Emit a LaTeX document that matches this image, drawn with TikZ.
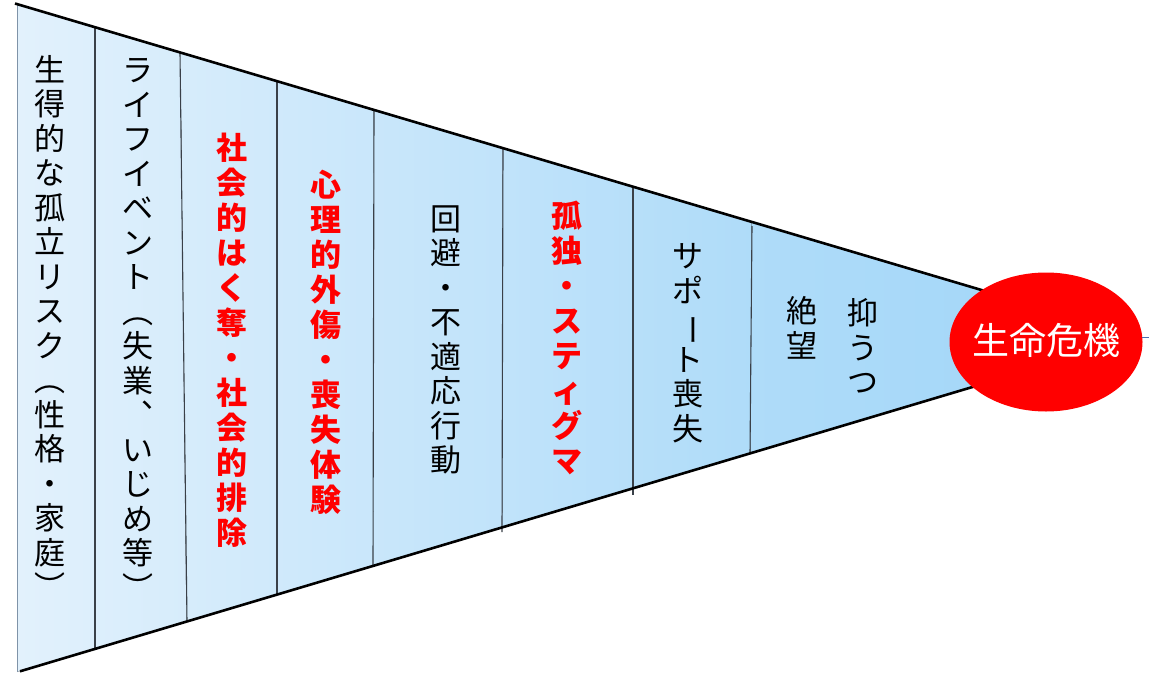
\documentclass[tikz,border=0pt]{standalone}
\usepackage{fontspec}
\setmainfont{Noto Sans CJK JP}
\usetikzlibrary{shapes.geometric}
\definecolor{cA}{HTML}{E2F1FC}
\definecolor{cB}{HTML}{9FD5F8}
\definecolor{redA}{HTML}{FF0000}
\definecolor{divgray}{HTML}{3A4048}
\definecolor{edgegray}{HTML}{7F93A8}
\definecolor{stubblue}{HTML}{4A6FB0}
\newcommand{\vbar}{\rotatebox[origin=c]{-90}{ー}}
\begin{document}
\begin{tikzpicture}[x=1pt,y=-1pt,
  vtext/.style={align=center, inner sep=0pt, font=\fontsize{31}{34.5}\selectfont, text=black},
  vred/.style={align=center, inner sep=0pt, font=\fontsize{31}{35}\selectfont\bfseries, text=redA},
  divider/.style={draw=divgray, line width=1.1pt},
  funnelline/.style={draw=black, line width=2.6pt},
  colfill/.style 2 args={left color=cB!#1!cA, right color=cB!#2!cA}]
\useasboundingbox (0,0) rectangle (1153,677);
% funnel body, clipped
\begin{scope}
  \clip (17,4.6) -- (1140,337) -- (17,672) -- cycle;
  \fill[colfill={0}{8}]   (17,0) -- (95,0) -- (95,677) -- (17,677) -- cycle;
  \fill[colfill={8}{17}]  (95,0) -- (180,0) -- (187,677) -- (95,677) -- cycle;
  \fill[colfill={17}{27}] (180,0) -- (277,0) -- (277,677) -- (187,677) -- cycle;
  \fill[colfill={27}{37}] (277,0) -- (374,0) -- (373,677) -- (277,677) -- cycle;
  \fill[colfill={37}{50}] (374,0) -- (503,0) -- (502,677) -- (373,677) -- cycle;
  \fill[colfill={50}{64}] (503,0) -- (633,0) -- (633,677) -- (502,677) -- cycle;
  \fill[colfill={64}{76}] (633,0) -- (752,0) -- (750,677) -- (633,677) -- cycle;
  \fill[colfill={76}{100}] (752,0) -- (1153,0) -- (1153,677) -- (750,677) -- cycle;
\end{scope}
% left edge
\draw[edgegray, line width=1pt] (17,4) -- (17,672);
% dividers
\draw[divider] (95,27.7) -- (95,648.8);
\draw[divider] (180,52.8) -- (187,621.3);
\draw[divider] (277,81.6) -- (277,594.5);
\draw[divider] (374,110.3) -- (373,565.9);
\draw[divider] (503,148.4) -- (502,532);
\draw[divider] (633,186.9) -- (633,495);
\draw[divider] (752,226) -- (750,453.6);
% funnel outline
\draw[funnelline] (15,3.5) -- (1140,337);
\draw[funnelline] (20,671.3) -- (1140,337);
% texts
\node[vtext] (c1) at (50,327) {生\\得\\的\\な\\孤\\立\\リ\\ス\\ク\\︵\\性\\格\\・\\家\\庭\\︶};
\node[vtext] (c2) at (138,329) {ラ\\イ\\フ\\イ\\ベ\\ン\\ト\\︵\\失\\業\\︑\\い\\じ\\め\\等\\︶};
\node[vred] (c3) at (232,340) {社\\会\\的\\は\\く\\奪\\・\\社\\会\\的\\排\\除};
\node[vred] (c4) at (326,342) {心\\理\\的\\外\\傷\\・\\喪\\失\\体\\験};
\node[vtext] (c5) at (446,340) {回\\避\\・\\不\\適\\応\\行\\動};
\node[vred] (c6) at (567,338) {孤\\独\\・\\ス\\テ\\ィ\\グ\\マ};
\node[vtext] (c7) at (688,343) {サ\\ポ\\\vbar\\ト\\喪\\失};
\node[vtext] (c8a) at (863,346) {抑\\う\\つ};
\node[vtext] (c8b) at (802,328) {絶\\望};
% crisis ellipse
\node[ellipse, fill=redA, draw=none, minimum width=193, minimum height=139, inner sep=0pt] (crisis) at (1046,342) {};
\node[text=white, inner sep=0pt, font=\fontsize{37}{40}\selectfont] (crisislabel) at (1046,340) {生命危機};
\coordinate (stub) at (1149,337);
\draw[stubblue, line width=0.7pt] (1142,337) -- (stub);
\end{tikzpicture}
\end{document}
